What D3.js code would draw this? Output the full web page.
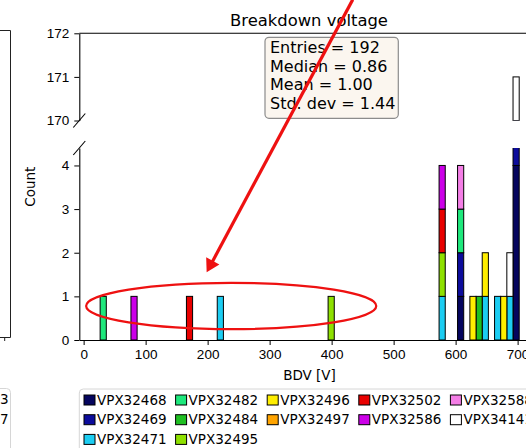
<!DOCTYPE html>
<html>
<head>
<meta charset="UTF-8" />
<title>Breakdown voltage</title>
<script src="https://d3js.org/d3.v7.min.js"></script>
<style>
body { margin: 0; background: #fff; }
svg { display: block; font-family: "DejaVu Sans", sans-serif; }
.tick text { font-size: 13.5px; fill: #000; }
.tick line, .domain { stroke: #000; }
</style>
</head>
<body>
<svg id="svg1" width="526" height="448"></svg>
<script>
var sensors = ['VPX32468', 'VPX32469', 'VPX32471', 'VPX32482', 'VPX32484', 'VPX32495',
               'VPX32496', 'VPX32497', 'VPX32502', 'VPX32586', 'VPX32588', 'VPX34141'];
var colors = ['#05055e', '#0c0c9c', '#1ccdf2', '#1ee87c', '#1fbf22', '#8ee000',
              '#ffee00', '#ffa400', '#e80000', '#cc00e8', '#f47ee6', '#ffffff'];

// left edge of each filled bin [V]
var binLeft = [26.6, 76.3, 165.8, 215.5, 394.3, 573.3, 603.1, 623.0, 632.9, 642.9, 662.8, 672.7, 682.6, 692.6];
var binWidth = 9.94;
// counts per sensor (rows) and bin (columns)
var counts = [
  [0, 0, 0, 0, 0, 0, 1, 0, 0, 0, 0, 0, 0, 4],
  [0, 0, 0, 0, 0, 0, 1, 0, 0, 0, 0, 0, 0, 166],
  [0, 0, 0, 1, 0, 1, 0, 0, 0, 1, 1, 0, 1, 0],
  [1, 0, 0, 0, 0, 0, 1, 0, 0, 0, 0, 0, 0, 0],
  [0, 0, 0, 0, 0, 0, 0, 0, 1, 0, 0, 0, 0, 0],
  [0, 0, 0, 0, 1, 1, 0, 0, 0, 0, 0, 0, 0, 0],
  [0, 0, 0, 0, 0, 0, 0, 1, 0, 1, 0, 1, 0, 0],
  [0, 0, 0, 0, 0, 0, 0, 0, 0, 0, 0, 0, 0, 0],
  [0, 0, 1, 0, 0, 1, 0, 0, 0, 0, 0, 0, 0, 0],
  [0, 1, 0, 0, 0, 1, 0, 0, 0, 0, 0, 0, 0, 0],
  [0, 0, 0, 0, 0, 0, 1, 0, 0, 0, 0, 0, 0, 0],
  [0, 0, 0, 0, 0, 0, 0, 0, 0, 0, 0, 0, 1, 1]
];

var xTicks = [0, 100, 200, 300, 400, 500, 600, 700];
var yTicksLow = [0, 1, 2, 3, 4];
var yTicksHigh = [170, 171, 172];
var statsLines = ['Entries = 192', 'Median = 0.86', 'Mean = 1.00', 'Std. dev = 1.44'];

// hand drawn annotation (data coords of the lower panel)
var ellipseBox = {cx: 238, cy: 0.78, rx: 234, ry: 0.53};
var arrowFrom = [434, 7.8], arrowTo = [198.4, 1.55];

var svg = d3.select('#svg1');

var x = d3.scaleLinear().domain([-7, 734]).range([79.3, 538.7]);
var yLow = d3.scaleLinear().domain([0, 4.4]).range([340, 148]);
var yHigh = d3.scaleLinear().domain([170, 172]).range([120.5, 33.3]);

// bits of the neighbouring plot on the left
svg.append('path').attr('d', 'M0,30.5H10.5V337.5H0M4.7,337.5V341')
  .attr('fill', 'none').attr('stroke', '#222').attr('stroke-width', 1);
svg.append('path').attr('d', 'M0,388.5H6.5Q10.5,388.5 10.5,392.5V450')
  .attr('fill', 'none').attr('stroke', '#d6d6d6').attr('stroke-width', 1);
[['3', 404.3], ['7', 424]].forEach(function(t) {
  svg.append('text').attr('x', 8.5).attr('y', t[1]).attr('text-anchor', 'end')
    .attr('font-size', 13.5).text(t[0]);
});

// stacked data
var table = binLeft.map(function(b, j) {
  var row = {bin: b};
  sensors.forEach(function(s, i) { row[s] = counts[i][j]; });
  return row;
});
var series = d3.stack().keys(sensors)(table);

var defs = svg.append('defs');
defs.append('clipPath').attr('id', 'clipLow').append('rect')
  .attr('x', 79.3).attr('y', yLow.range()[1]).attr('width', 460).attr('height', yLow.range()[0] - yLow.range()[1] + 1);
defs.append('clipPath').attr('id', 'clipHigh').append('rect')
  .attr('x', 79.3).attr('y', yHigh.range()[1]).attr('width', 460).attr('height', yHigh.range()[0] - yHigh.range()[1]);

function drawBars(y, clip) {
  var g = svg.append('g').attr('clip-path', 'url(#' + clip + ')');
  g.selectAll('g').data(series).enter().append('g')
    .attr('fill', function(d, i) { return colors[i]; })
    .selectAll('rect').data(function(d) { return d.filter(function(p) { return p[1] > p[0]; }); })
    .enter().append('rect')
    .attr('x', function(d) { return x(d.data.bin); })
    .attr('width', function(d) { return x(d.data.bin + binWidth) - x(d.data.bin); })
    .attr('y', function(d) { return y(d[1]); })
    .attr('height', function(d) { return y(d[0]) - y(d[1]); })
    .attr('stroke', '#000').attr('stroke-width', 1);
}
drawBars(yLow, 'clipLow');
drawBars(yHigh, 'clipHigh');

// axes
var fmt = d3.format('d');
svg.append('g').attr('transform', 'translate(0,340)')
  .call(d3.axisBottom(x).tickValues(xTicks).tickFormat(fmt).tickSize(5).tickPadding(4.5).tickSizeOuter(0));
svg.append('g').attr('transform', 'translate(79.3,0)')
  .call(d3.axisLeft(yLow).tickValues(yTicksLow).tickFormat(fmt).tickSize(5).tickPadding(5).tickSizeOuter(0));
svg.append('g').attr('transform', 'translate(79.3,0)')
  .call(d3.axisLeft(yHigh).tickValues(yTicksHigh).tickFormat(fmt).tickSize(5).tickPadding(5).tickSizeOuter(0));
svg.selectAll('.domain').attr('stroke-width', 1.1);
svg.append('line').attr('x1', x.range()[0]).attr('x2', x.range()[1])
  .attr('y1', yHigh.range()[1]).attr('y2', yHigh.range()[1]).attr('stroke', '#000').attr('stroke-width', 1.1);

// break marks
[yHigh.range()[0], yLow.range()[1]].forEach(function(yy) {
  svg.append('line').attr('x1', 79.3 - 6).attr('y1', yy + 7).attr('x2', 79.3 + 6).attr('y2', yy - 7)
    .attr('stroke', '#000').attr('stroke-width', 1.1);
});

// labels
svg.append('text').attr('x', 309).attr('y', 25.5).attr('text-anchor', 'middle')
  .attr('font-size', 16.4).text('Breakdown voltage');
svg.append('text').attr('transform', 'translate(35,186.7) rotate(-90)').attr('text-anchor', 'middle')
  .attr('font-size', 13.5).text('Count');
svg.append('text').attr('x', 309.5).attr('y', 380).attr('text-anchor', 'middle')
  .attr('font-size', 13.5).text('BDV [V]');

// stats box
svg.append('rect').attr('x', 265).attr('y', 37.3).attr('width', 133.3).attr('height', 81)
  .attr('rx', 4).attr('fill', '#fbf6ef').attr('stroke', '#8c8c8c').attr('stroke-width', 1.2);
svg.append('g').selectAll('text').data(statsLines).enter().append('text')
  .attr('x', 270).attr('y', function(d, i) { return 53.3 + i * 18.4; })
  .attr('font-size', 16).text(function(d) { return d; });

// legend
var legend = svg.append('g');
legend.append('rect').attr('x', 79.3).attr('y', 389).attr('width', 500).attr('height', 90)
  .attr('rx', 4).attr('fill', '#fff').attr('stroke', '#d6d6d6');
var colSizes = [3, 3, 2, 2, 2];
var k = 0;
colSizes.forEach(function(n, c) {
  for (var r = 0; r < n; r++, k++) {
    var lx = 84 + c * 91.6, ly = 395 + r * 19.7;
    legend.append('rect').attr('x', lx).attr('y', ly).attr('width', 11).attr('height', 10)
      .attr('fill', colors[k]).attr('stroke', '#000').attr('stroke-width', 1);
    legend.append('text').attr('x', lx + 13).attr('y', ly + 9.5).attr('font-size', 13.5).text(sensors[k]);
  }
});

// red annotation drawn on top
var red = '#ee1111';
svg.append('ellipse').attr('cx', x(ellipseBox.cx)).attr('cy', yLow(ellipseBox.cy))
  .attr('rx', x(ellipseBox.cx + ellipseBox.rx) - x(ellipseBox.cx))
  .attr('ry', yLow(ellipseBox.cy - ellipseBox.ry) - yLow(ellipseBox.cy))
  .attr('fill', 'none').attr('stroke', red).attr('stroke-width', 2.2);

var p0 = [x(arrowFrom[0]), yLow(arrowFrom[1])], p1 = [x(arrowTo[0]), yLow(arrowTo[1])];
var dx = p1[0] - p0[0], dy = p1[1] - p0[1], len = Math.sqrt(dx * dx + dy * dy);
var ux = dx / len, uy = dy / len, headLen = 13, headW = 7.5;
var bx = p1[0] - ux * headLen, by = p1[1] - uy * headLen;
svg.append('line').attr('x1', p0[0]).attr('y1', p0[1]).attr('x2', bx + ux * 2).attr('y2', by + uy * 2)
  .attr('stroke', red).attr('stroke-width', 3.2);
svg.append('polygon').attr('fill', red)
  .attr('points', [p1, [bx - uy * headW, by + ux * headW], [bx + uy * headW, by - ux * headW]]
    .map(function(p) { return p.join(','); }).join(' '));
</script>
</body>
</html>
